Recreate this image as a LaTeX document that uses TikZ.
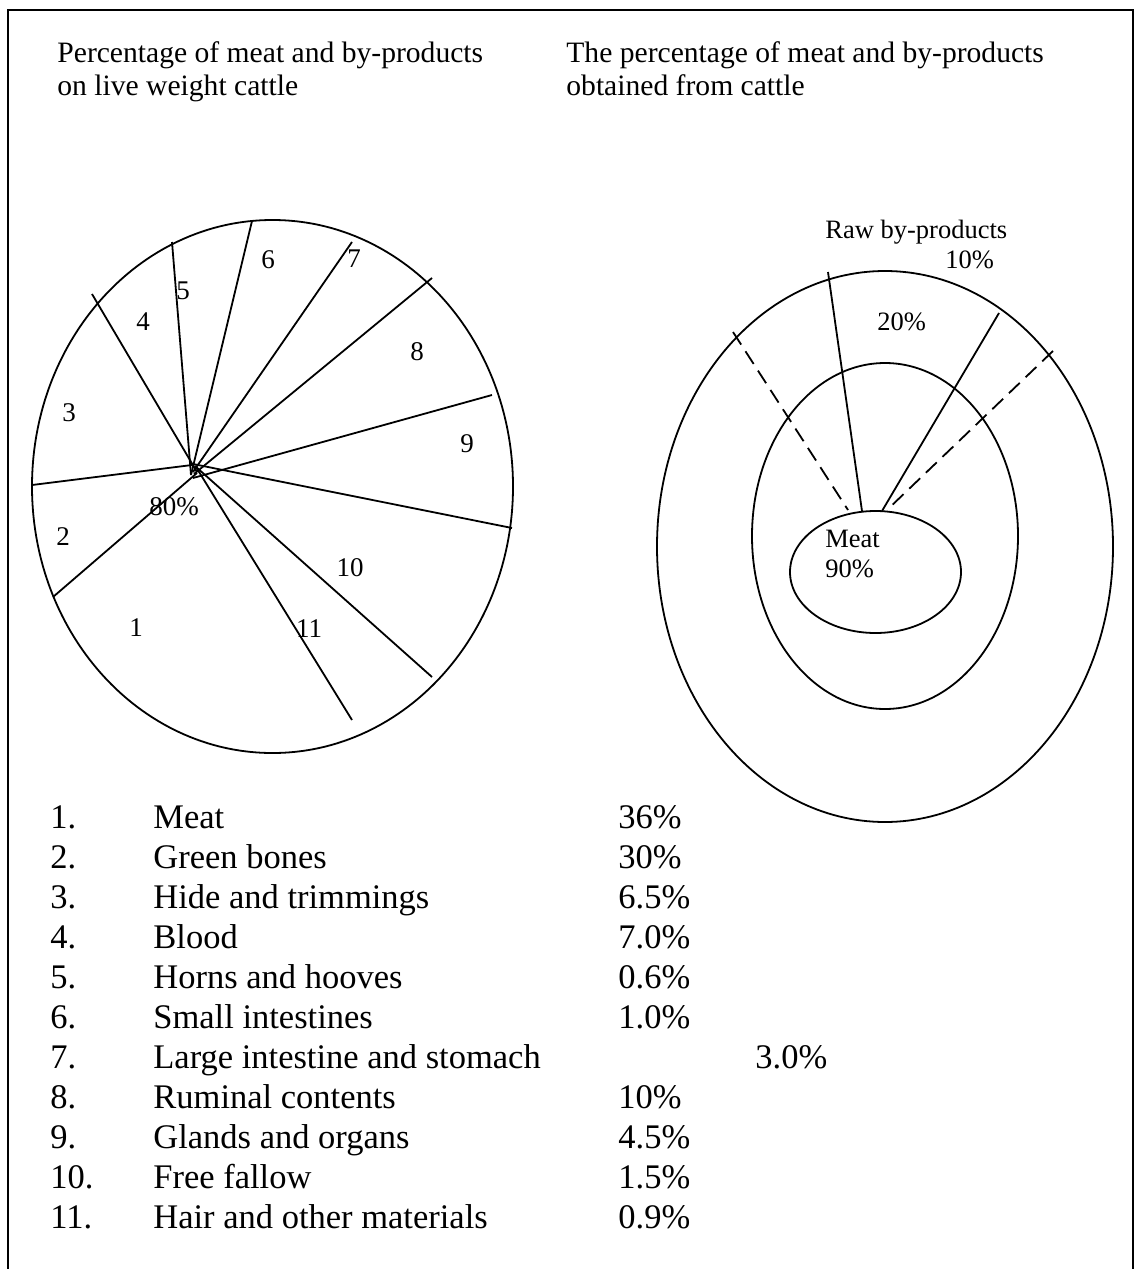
\documentclass[tikz,border=0pt]{standalone}
\usepackage{fontspec}
\setmainfont{Liberation Serif}
\begin{document}
\begin{tikzpicture}[x=0.5pt,y=-0.5pt,
  rule/.style={line width=0.9pt},
  dashrule/.style={line width=0.9pt, dash pattern=on 7.5pt off 4pt},
  title/.style={inner sep=0pt, anchor=base west, font=\fontsize{14.8}{17}\selectfont},
  slice/.style={inner sep=0pt, font=\fontsize{13.5}{16}\selectfont},
  ring/.style={inner sep=0pt, anchor=base west, font=\fontsize{13.25}{16}\selectfont},
  legend/.style={inner sep=0pt, anchor=base west, font=\fontsize{17.25}{20}\selectfont}]

\useasboundingbox (0,0) rectangle (1137,1269);
\draw[rule] (8,10) rectangle (1133,1280);

% headings
\node[title] (tl1) at (57,62) {Percentage of meat and by-products};
\node[title] (tl2) at (57,95) {on live weight cattle};
\node[title] (tr1) at (566,62) {The percentage of meat and by-products};
\node[title] (tr2) at (566,95) {obtained from cattle};

% ---- pie of live weight ----
\draw[rule] (272.5,486.5) ellipse [x radius=120.25pt, y radius=133.25pt];
\foreach \name/\ox/\oy/\ix/\iy in {
  s34/92/294/197/472, s45/172/242/191/475, s56/252/221/191/475,
  s67/352/242/193/472, s78/432/278/194/474, s89/492/395/193/478,
  s910/512/528/193/464, s1011/432/677/195/466, s111/352/720/196/467,
  s12/53/597/197/473, s23/32/485/192/465} {
  \coordinate (\name o) at (\ox,\oy);
  \coordinate (\name i) at (\ix,\iy);
  \draw[rule] (\name o) -- (\name i);
}
\node[slice] (p1) at (136,628) {1};
\node[slice] (p2) at (63,537) {2};
\node[slice] (p3) at (69,413) {3};
\node[slice] (p4) at (143,322) {4};
\node[slice] (p5) at (183,291) {5};
\node[slice] (p6) at (268,260) {6};
\node[slice] (p7) at (354,259) {7};
\node[slice] (p8) at (417,352) {8};
\node[slice] (p9) at (467,444) {9};
\node[slice] (p10) at (350,568) {10};
\node[slice] (p11) at (309,629) {11};
\node[slice] (p80) at (174,507) {80\%};

% ---- rings of meat and by-products ----
\draw[rule] (885,546.5) ellipse [x radius=114pt, y radius=137.75pt];
\draw[rule] (885,536) ellipse [x radius=66.5pt, y radius=86.5pt];
\draw[rule] (875.5,572) ellipse [x radius=42.75pt, y radius=30.5pt];

\coordinate (la) at (828,272);
\coordinate (lb) at (862,511);
\coordinate (ra) at (999,313);
\coordinate (rb) at (882,511);
\coordinate (dla) at (733,332);
\coordinate (dlb) at (848,510);
\coordinate (dra) at (1053,351);
\coordinate (drb) at (887,510);
\draw[rule] (la) -- (lb);
\draw[rule] (ra) -- (rb);
\draw[dashrule] (dla) -- (dlb);
\draw[dashrule] (dra) -- (drb);

\node[ring] (raw) at (825,238) {Raw by-products};
\node[ring] (r10) at (945,268) {10\%};
\node[ring] (r20) at (877,330) {20\%};
\node[ring] (meat) at (825,547) {Meat};
\node[ring] (m90) at (825,577) {90\%};

% ---- key ----
\foreach \txt/\val/\vx [count=\i] in {
  Meat/36\%/618, Green bones/30\%/618, Hide and trimmings/6.5\%/618,
  Blood/7.0\%/618, Horns and hooves/0.6\%/618, Small intestines/1.0\%/618,
  Large intestine and stomach/3.0\%/755, Ruminal contents/10\%/618,
  Glands and organs/4.5\%/618, Free fallow/1.5\%/618,
  Hair and other materials/0.9\%/618} {
  \node[legend] (kn\i) at (50,{828+40*(\i-1)}) {\i.};
  \node[legend] (kt\i) at (153,{828+40*(\i-1)}) {\txt};
  \node[legend] (kv\i) at (\vx,{828+40*(\i-1)}) {\val};
}
\end{tikzpicture}
\end{document}
